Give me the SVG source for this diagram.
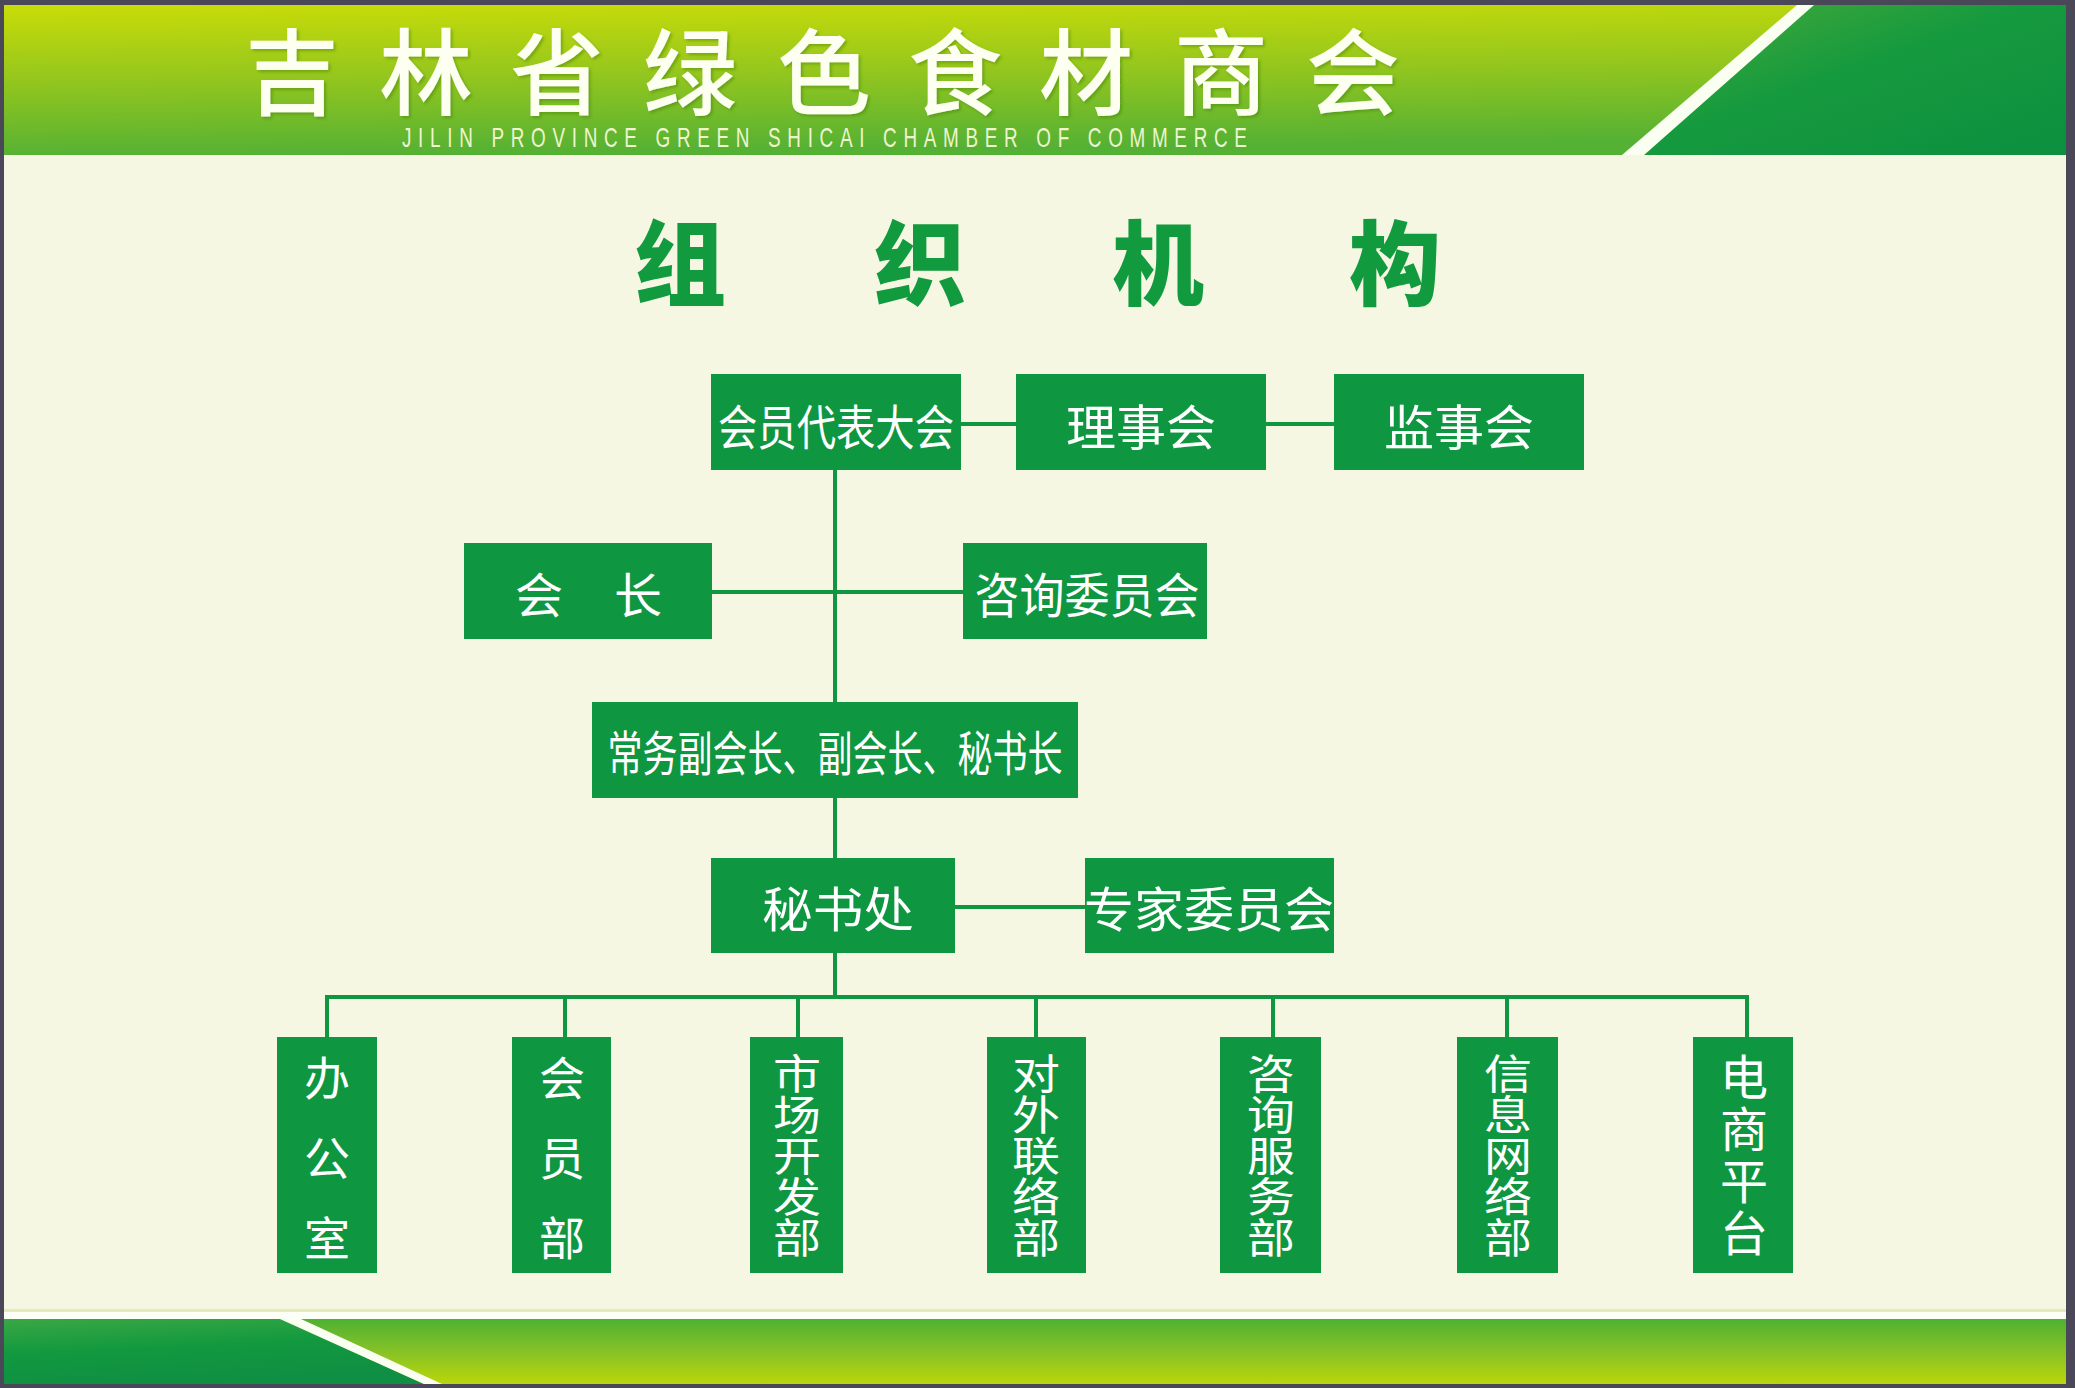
<svg xmlns="http://www.w3.org/2000/svg" width="2075" height="1388" viewBox="0 0 2075 1388">
<defs>
<linearGradient id="hdr" x1="0" y1="0" x2="0.15" y2="1">
<stop offset="0" stop-color="#c9dc08"/>
<stop offset="0.5" stop-color="#93c61e"/>
<stop offset="1" stop-color="#55b134"/>
</linearGradient>
<linearGradient id="hdrR" x1="0" y1="0" x2="1" y2="1">
<stop offset="0" stop-color="#4aab3a"/>
<stop offset="0.45" stop-color="#169a3e"/>
<stop offset="1" stop-color="#0c8f3f"/>
</linearGradient>
<linearGradient id="ftr" x1="0" y1="0" x2="0" y2="1">
<stop offset="0" stop-color="#4fb132"/>
<stop offset="0.5" stop-color="#86c226"/>
<stop offset="1" stop-color="#bad60a"/>
</linearGradient>
<linearGradient id="ftrL" x1="0" y1="0" x2="0.3" y2="1">
<stop offset="0" stop-color="#3aa744"/>
<stop offset="0.5" stop-color="#12993f"/>
<stop offset="1" stop-color="#0f8f43"/>
</linearGradient>
<filter id="sh" x="-10%" y="-10%" width="120%" height="130%">
<feDropShadow dx="2" dy="2" stdDeviation="1.5" flood-color="#3d7a10" flood-opacity="0.45"/>
</filter>
</defs>
<style>
.box{fill:#0f9641}
.lbl{fill:#ffffff;font-family:"Noto Sans CJK SC","Noto Sans",sans-serif;font-size:48px;text-anchor:middle;dominant-baseline:central}
.vt{fill:#ffffff;font-family:"Noto Sans CJK SC","Noto Sans",sans-serif;writing-mode:vertical-rl;text-orientation:upright}
.ln{stroke:#0f9641;stroke-width:4;fill:none}
.ttl{fill:#129a3f;font-family:"Noto Sans CJK SC","Noto Sans",sans-serif;font-size:92px;font-weight:900;text-anchor:middle;dominant-baseline:central}
.hd{fill:#fdfff0;font-family:"Noto Sans CJK SC","Noto Sans",sans-serif;font-size:94px;font-weight:500;text-anchor:middle;dominant-baseline:central}
</style>
<!-- frame and background -->
<rect x="0" y="0" width="2075" height="1388" fill="#4a4858"/>
<rect x="4" y="5" width="2062" height="1379" fill="#f5f7e2"/>
<!-- header -->
<rect x="4" y="5" width="2062" height="150" fill="url(#hdr)"/>
<polygon points="1812,5 2066,5 2066,155 1644,155" fill="url(#hdrR)"/>
<polygon points="1797,5 1814,5 1644,155 1622,155" fill="#fbfff2"/>
<g filter="url(#sh)">
<text class="hd" x="292" y="67">吉</text>
<text class="hd" x="426" y="67">林</text>
<text class="hd" x="557" y="67">省</text>
<text class="hd" x="690" y="67">绿</text>
<text class="hd" x="824" y="67">色</text>
<text class="hd" x="955" y="67">食</text>
<text class="hd" x="1086" y="67">材</text>
<text class="hd" x="1221" y="67">商</text>
<text class="hd" x="1353" y="67">会</text>
</g>
<text transform="translate(402,147) scale(0.7,1)" x="0" y="0" textLength="1207" lengthAdjust="spacing" fill="#eef5cf" font-family="'Liberation Sans',sans-serif" font-size="27">JILIN PROVINCE GREEN SHICAI CHAMBER OF COMMERCE</text>
<!-- footer -->
<rect x="4" y="1309" width="2062" height="4" fill="#e4ebb8"/>
<rect x="4" y="1312" width="2062" height="7" fill="#fbfff5"/>
<rect x="4" y="1319" width="2062" height="65" fill="url(#ftr)"/>
<polygon points="4,1319 280,1319 424,1384 4,1384" fill="url(#ftrL)"/>
<polygon points="280,1319 301,1319 442,1384 424,1384" fill="#fbfff2"/>
<!-- title -->
<g id="title">
<text class="ttl" x="680" y="257">组</text>
<text class="ttl" x="920" y="257">织</text>
<text class="ttl" x="1158" y="257">机</text>
<text class="ttl" x="1395" y="257">构</text>
</g>
<!-- connectors -->
<g id="connectors">
<line class="ln" x1="961" y1="424" x2="1016" y2="424"/>
<line class="ln" x1="1266" y1="424" x2="1334" y2="424"/>
<line class="ln" x1="835" y1="470" x2="835" y2="702"/>
<line class="ln" x1="712" y1="592" x2="963" y2="592"/>
<line class="ln" x1="835" y1="798" x2="835" y2="858"/>
<line class="ln" x1="955" y1="907" x2="1085" y2="907"/>
<line class="ln" x1="835" y1="953" x2="835" y2="997"/>
<line class="ln" x1="325" y1="997" x2="1749" y2="997"/>
<line class="ln" x1="327" y1="995" x2="327" y2="1037"/>
<line class="ln" x1="565" y1="995" x2="565" y2="1037"/>
<line class="ln" x1="798" y1="995" x2="798" y2="1037"/>
<line class="ln" x1="1036" y1="995" x2="1036" y2="1037"/>
<line class="ln" x1="1273" y1="995" x2="1273" y2="1037"/>
<line class="ln" x1="1507" y1="995" x2="1507" y2="1037"/>
<line class="ln" x1="1747" y1="995" x2="1747" y2="1037"/>
</g>
<!-- nodes -->
<g id="n-hydb">
<rect class="box" x="711" y="374" width="250" height="96"/>
<text class="lbl" x="836" y="424" textLength="236" lengthAdjust="spacingAndGlyphs">会员代表大会</text>
</g>
<g id="n-lsh">
<rect class="box" x="1016" y="374" width="250" height="96"/>
<text class="lbl" x="1141" y="424" textLength="150" lengthAdjust="spacingAndGlyphs">理事会</text>
</g>
<g id="n-jsh">
<rect class="box" x="1334" y="374" width="250" height="96"/>
<text class="lbl" x="1459" y="424" textLength="150" lengthAdjust="spacingAndGlyphs">监事会</text>
</g>
<g id="n-hz">
<rect class="box" x="464" y="543" width="248" height="96"/>
<text class="lbl" x="539" y="592">会</text>
<text class="lbl" x="638" y="592">长</text>
</g>
<g id="n-zxwyh">
<rect class="box" x="963" y="543" width="244" height="96"/>
<text class="lbl" x="1087" y="592" textLength="225" lengthAdjust="spacingAndGlyphs">咨询委员会</text>
</g>
<g id="n-fhz">
<rect class="box" x="592" y="702" width="486" height="96"/>
<text class="lbl" x="835" y="750" textLength="455" lengthAdjust="spacingAndGlyphs">常务副会长、副会长、秘书长</text>
</g>
<g id="n-msc">
<rect class="box" x="711" y="858" width="244" height="95"/>
<text class="lbl" x="838" y="906" textLength="152" lengthAdjust="spacingAndGlyphs">秘书处</text>
</g>
<g id="n-zjwyh">
<rect class="box" x="1085" y="858" width="249" height="95"/>
<text class="lbl" x="1209" y="906" textLength="250" lengthAdjust="spacingAndGlyphs">专家委员会</text>
</g>
<g id="n-bgs">
<rect class="box" x="277" y="1037" width="100" height="236"/>
<text class="vt" x="327" y="1055" font-size="46" letter-spacing="34">办公室</text>
</g>
<g id="n-hyb">
<rect class="box" x="512" y="1037" width="99" height="236"/>
<text class="vt" x="562" y="1055" font-size="46" letter-spacing="34">会员部</text>
</g>
<g id="n-sckfb">
<rect class="box" x="750" y="1037" width="93" height="236"/>
<text class="vt" transform="translate(797,1052.5) scale(1,0.855)" x="0" y="0" font-size="48">市场开发部</text>
</g>
<g id="n-dwllb">
<rect class="box" x="987" y="1037" width="99" height="236"/>
<text class="vt" transform="translate(1036,1052.5) scale(1,0.855)" x="0" y="0" font-size="48">对外联络部</text>
</g>
<g id="n-zxfwb">
<rect class="box" x="1220" y="1037" width="101" height="236"/>
<text class="vt" transform="translate(1271,1052.5) scale(1,0.855)" x="0" y="0" font-size="48">咨询服务部</text>
</g>
<g id="n-xxwlb">
<rect class="box" x="1457" y="1037" width="101" height="236"/>
<text class="vt" transform="translate(1508,1052.5) scale(1,0.855)" x="0" y="0" font-size="48">信息网络部</text>
</g>
<g id="n-dspt">
<rect class="box" x="1693" y="1037" width="100" height="236"/>
<text class="vt" x="1744" y="1053" font-size="48" letter-spacing="4">电商平台</text>
</g>
</svg>
